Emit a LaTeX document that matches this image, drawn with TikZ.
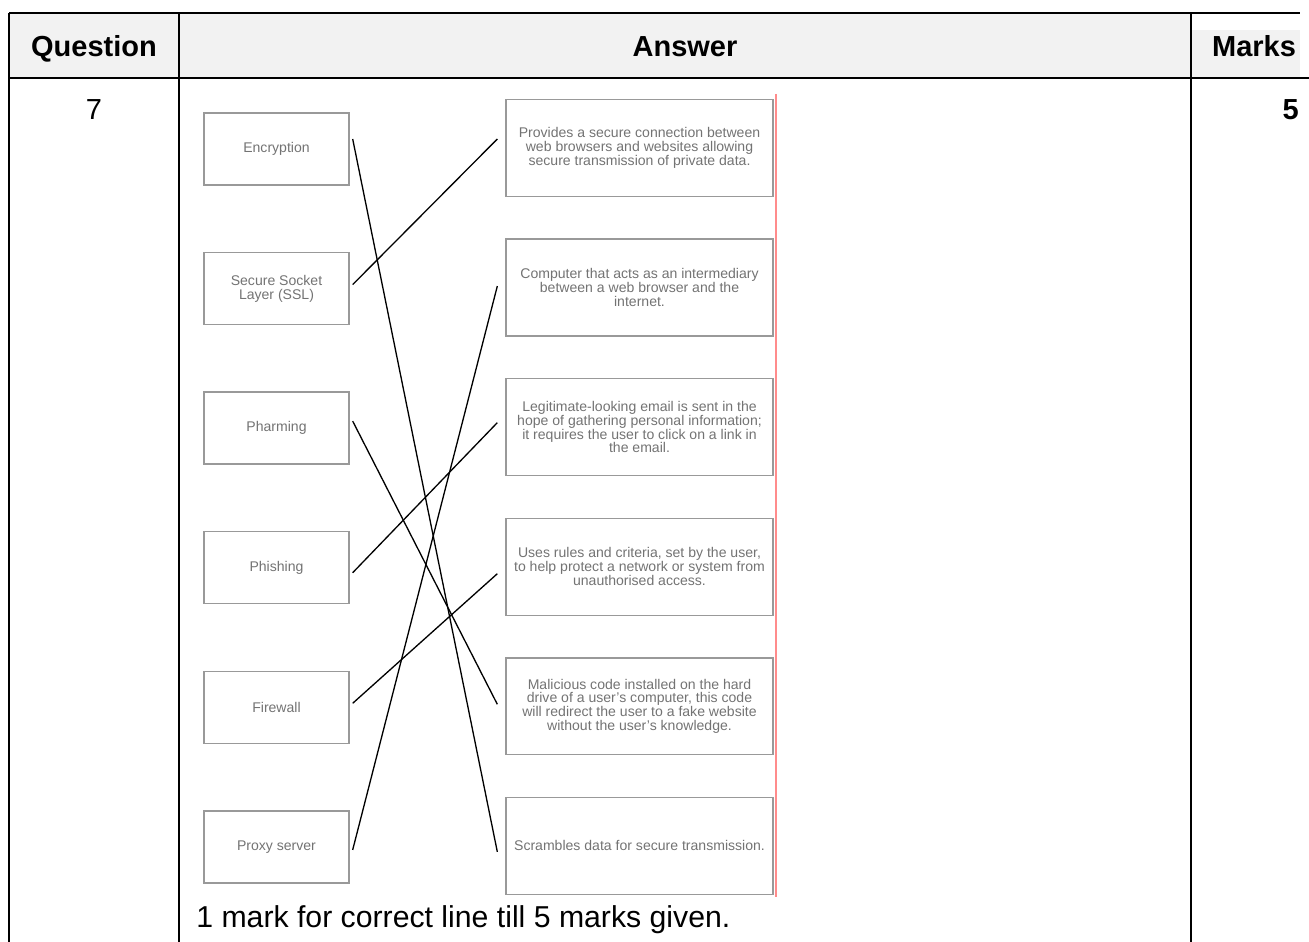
\documentclass[tikz,border=0pt]{standalone}
\usepackage{fontspec}
\setmainfont{Liberation Sans}
\usetikzlibrary{positioning}

\begin{document}
\begin{tikzpicture}[
    x=0.02cm, y=-0.02cm,
    node distance=2.792cm,
    term/.style={draw=black!40, line width=0.8pt, minimum width=2.9cm, minimum height=1.44cm, inner sep=1pt, align=center, text=black!55, font=\fontsize{8}{7.9}\selectfont},
    desc/.style={term, minimum width=5.34cm, minimum height=1.94cm},
    match/.style={line width=0.75pt},
    rule/.style={line width=1.1pt},
    head/.style={font=\fontsize{16.5}{20}\selectfont\bfseries, anchor=base, inner sep=0pt}
]
\useasboundingbox (0,0) rectangle (1309,942);
% table
\fill[gray!10] (9,13) rectangle (1191,78);
\fill[gray!10] (1191,30) rectangle (1300,78);
\draw[rule] (9,13) -- (1300,13);
\draw[rule] (9,78) -- (1309,78);
\draw[rule] (9,13) -- (9,942);
\draw[rule] (179,13) -- (179,942);
\draw[rule] (1191,13) -- (1191,942);
\node[head] (qhead) at (94,57) {Question};
\node[head] (ahead) at (685,57) {Answer};
\node[head] (mhead) at (1254,57) {Marks};
\node[font=\fontsize{16.5}{20}\selectfont, anchor=base, inner sep=0pt] (qnum) at (94,120) {7};
\node[head, anchor=base east] (mark) at (1299,120) {5};
% terms
\node[term] (enc) at (276.5,149) {Encryption};
\node[term, below of=enc] (ssl) {Secure Socket\\Layer (SSL)};
\node[term, below of=ssl] (pharm) {Pharming};
\node[term, below of=pharm] (phish) {Phishing};
\node[term, below of=phish] (fwall) {Firewall};
\node[term, below of=fwall] (proxy) {Proxy server};
% descriptions
\node[desc] (prov) at (639.5,148) {Provides a secure connection between\\web browsers and websites allowing\\secure transmission of private data.};
\node[desc, below of=prov] (comp) {Computer that acts as an intermediary\\between a web browser and the\\internet.};
\node[desc, below of=comp] (legit) {Legitimate-looking email is sent in the\\hope of gathering personal information;\\it requires the user to click on a link in\\the email.};
\node[desc, below of=legit] (rules) {Uses rules and criteria, set by the user,\\to help protect a network or system from\\unauthorised access.};
\node[desc, below of=rules] (malw) {Malicious code installed on the hard\\drive of a user's computer, this code\\will redirect the user to a fake website\\without the user's knowledge.};
\node[desc, below of=malw] (scram) {Scrambles data for secure transmission.};
\draw[red!45, line width=0.9pt] (776,94) -- (776,897);
% matching lines
\draw[match] ([xshift=0.06cm,yshift=0.2cm]enc.east) -- ([xshift=-0.16cm,yshift=-0.12cm]scram.west);
\draw[match] ([xshift=0.06cm,yshift=0.08cm]ssl.east) -- ([xshift=-0.16cm,yshift=0.18cm]prov.west);
\draw[match] ([xshift=0.06cm,yshift=0.14cm]pharm.east) -- ([xshift=-0.16cm,yshift=0.04cm]malw.west);
\draw[match] ([xshift=0.06cm,yshift=-0.1cm]phish.east) -- ([xshift=-0.16cm,yshift=0.09cm]legit.west);
\draw[match] ([xshift=0.06cm,yshift=0.08cm]fwall.east) -- ([xshift=-0.16cm,yshift=-0.14cm]rules.west);
\draw[match] ([xshift=0.06cm,yshift=-0.06cm]proxy.east) -- ([xshift=-0.16cm,yshift=0.03cm]comp.west);
\node[font=\fontsize{17.2}{20}\selectfont, anchor=base west, inner sep=0pt] (note) at (196,927) {1 mark for correct line till 5 marks given.};
\end{tikzpicture}
\end{document}
